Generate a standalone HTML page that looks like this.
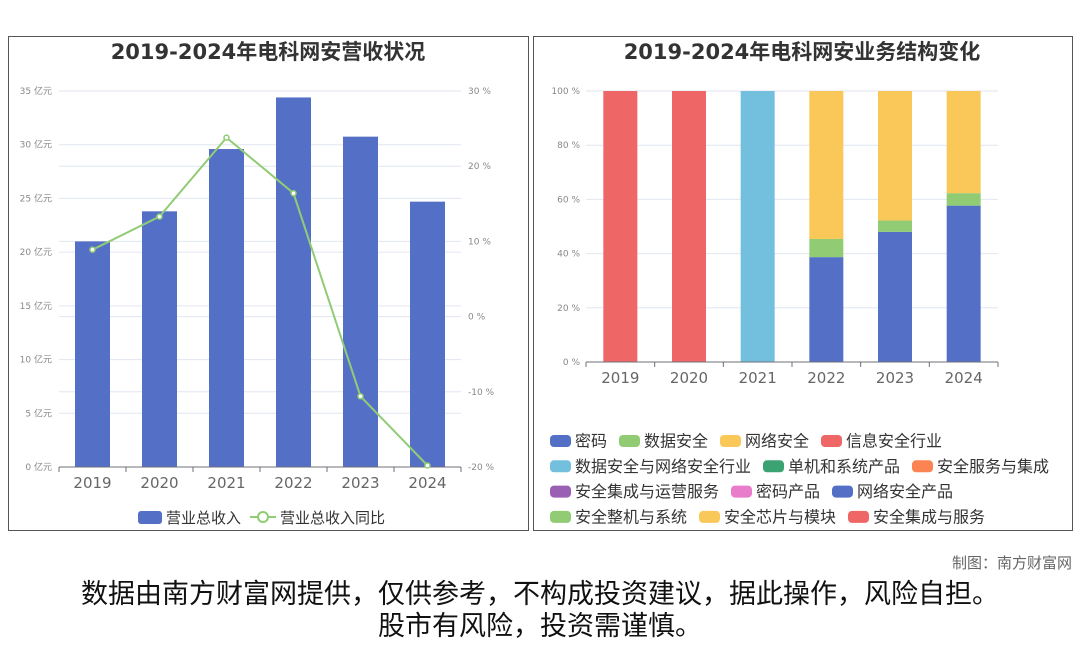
<!DOCTYPE html>
<html><head><meta charset="utf-8"><style>
body{margin:0;width:1080px;height:646px;background:#fff;overflow:hidden;font-family:"DejaVu Sans","Noto Sans CJK SC",sans-serif;position:relative}
.panel{position:absolute;border:1px solid #555;background:#fff}
.t{position:absolute;white-space:nowrap}
</style></head><body>
<div class="panel" style="left:8px;top:36px;width:519px;height:493px"></div>
<div class="panel" style="left:533px;top:36px;width:538px;height:493px"></div>
<svg id="s" width="1080" height="646" style="position:absolute;left:0;top:0"></svg>
<div class="t" style="right:8px;top:552px;font-size:15px;color:#666">制图：南方财富网</div>
<div class="t" style="left:0;width:1080px;text-align:center;top:579px;font-size:27px;line-height:32px;color:#111">数据由南方财富网提供，仅供参考，不构成投资建议，据此操作，风险自担。<br>股市有风险，投资需谨慎。</div>
<script>
const years=['2019','2020','2021','2022','2023','2024'];
const revenue=[21.0,23.8,29.6,34.4,30.75,24.7];
const growth=[8.9,13.3,23.8,16.4,-10.6,-19.8];
const leftTicks=[0,5,10,15,20,25,30,35];
const rightTicks=[-20,-10,0,10,20,30];
const pctTicks=[0,20,40,60,80,100];
const netProd=[0,0,0,38.7,48,57.7];
const sysProd=[0,0,0,6.7,4.2,4.6];
const chipProd=[0,0,0,54.6,47.8,37.7];
const infoSec=[100,100,0,0,0,0];
const dataNet=[0,0,100,0,0,0];
const legendRows=[[['密码','#5470c6'],['数据安全','#91cc75'],['网络安全','#fac858'],['信息安全行业','#ee6666']],
[['数据安全与网络安全行业','#73c0de'],['单机和系统产品','#3ba272'],['安全服务与集成','#fc8452']],
[['安全集成与运营服务','#9a60b4'],['密码产品','#ea7ccc'],['网络安全产品','#5470c6']],
[['安全整机与系统','#91cc75'],['安全芯片与模块','#fac858'],['安全集成与服务','#ee6666']]];
const s=document.getElementById('s');const NS='http://www.w3.org/2000/svg';
function el(t,a,txt){const e=document.createElementNS(NS,t);for(const k in a)e.setAttribute(k,a[k]);if(txt!==undefined)e.textContent=txt;s.appendChild(e);return e;}
let e=el('text',{x:268,y:59,'text-anchor':'middle','font-size':21,'font-weight':'bold',fill:'#333'},'2019-2024年电科网安营收状况');

e=el('text',{x:802,y:59,'text-anchor':'middle','font-size':21,'font-weight':'bold',fill:'#333'},'2019-2024年电科网安业务结构变化');

const L={x0:59,x1:461,y0:467,y1:91};
const ly=v=>L.y0-(v/35)*(L.y0-L.y1);
const ry=v=>L.y0-((v+20)/50)*(L.y0-L.y1);
const bw=(L.x1-L.x0)/6;const cx=i=>L.x0+bw*(i+0.5);
leftTicks.forEach(v=>{if(v>0)el('line',{x1:L.x0,x2:L.x1,y1:ly(v),y2:ly(v),stroke:'#e0e6f1'});
 e=el('text',{x:52,y:ly(v)+3,'text-anchor':'end','font-size':9,fill:'#888'},v+' 亿元');});
rightTicks.forEach(v=>{if(v>-20)el('line',{x1:L.x0,x2:L.x1,y1:ry(v),y2:ry(v),stroke:'#e0e6f1'});
 e=el('text',{x:468,y:ry(v)+3,'font-size':9,fill:'#888'},v+' %');});
revenue.forEach((v,i)=>{e=el('rect',{x:cx(i)-17.5,y:ly(v),width:35,height:L.y0-ly(v),fill:'#5470c6'});});
el('line',{x1:L.x0,x2:L.x1,y1:L.y0,y2:L.y0,stroke:'#6e7079'});
years.forEach((y,i)=>{el('line',{x1:L.x0+bw*i,x2:L.x0+bw*i,y1:L.y0,y2:L.y0+5,stroke:'#6e7079'});
 e=el('text',{x:cx(i),y:488,'text-anchor':'middle','font-size':15,fill:'#666'},y);});
el('line',{x1:L.x1,x2:L.x1,y1:L.y0,y2:L.y0+5,stroke:'#6e7079'});
e=el('polyline',{points:growth.map((v,i)=>cx(i)+','+ry(v)).join(' '),fill:'none',stroke:'#91cc75','stroke-width':2});

growth.forEach((v,i)=>{e=el('circle',{cx:cx(i),cy:ry(v),r:2.5,fill:'#fff',stroke:'#91cc75','stroke-width':1.5});});
e=el('rect',{x:138,y:511,width:24,height:13,rx:3,fill:'#5470c6'});
el('text',{x:166,y:523,'font-size':15,fill:'#333'},'营业总收入');
el('line',{x1:250,x2:276,y1:517,y2:517,stroke:'#91cc75','stroke-width':2});
e=el('circle',{cx:263,cy:517,r:5,fill:'#fff',stroke:'#91cc75','stroke-width':2});
el('text',{x:280,y:523,'font-size':15,fill:'#333'},'营业总收入同比');
const R={x0:586,x1:998,y0:362,y1:91};
const py=v=>R.y0-(v/100)*(R.y0-R.y1);
const rbw=(R.x1-R.x0)/6;const rcx=i=>R.x0+rbw*(i+0.5);
pctTicks.forEach(v=>{if(v>0)el('line',{x1:R.x0,x2:R.x1,y1:py(v),y2:py(v),stroke:'#e0e6f1'});
 e=el('text',{x:580,y:py(v)+3,'text-anchor':'end','font-size':9,fill:'#888'},v+' %');});
const stacks=[[netProd,'#5470c6'],[sysProd,'#91cc75'],[chipProd,'#fac858'],[infoSec,'#ee6666'],[dataNet,'#73c0de']];
years.forEach((y,i)=>{let acc=0;stacks.forEach(([arr,c],k)=>{const v=arr[i];if(v>0){
 e=el('rect',{x:rcx(i)-17,y:py(acc+v),width:34,height:py(acc)-py(acc+v),fill:c});
 }acc+=v;});});
el('line',{x1:R.x0,x2:R.x1,y1:R.y0,y2:R.y0,stroke:'#6e7079'});
years.forEach((y,i)=>{el('line',{x1:R.x0+rbw*i,x2:R.x0+rbw*i,y1:R.y0,y2:R.y0+5,stroke:'#6e7079'});
 e=el('text',{x:rcx(i),y:383,'text-anchor':'middle','font-size':15,fill:'#666'},y);});
el('line',{x1:R.x1,x2:R.x1,y1:R.y0,y2:R.y0+5,stroke:'#6e7079'});
legendRows.forEach((row,r)=>{let x=550;const y=441+r*25.3;row.forEach(([n,c])=>{
 e=el('rect',{x:x,y:y-6,width:21,height:12,rx:4,fill:c});
 el('text',{x:x+25,y:y+5.5,'font-size':16,fill:'#333'},n);x+=25+n.length*16+12;});});
</script>
</body></html>
